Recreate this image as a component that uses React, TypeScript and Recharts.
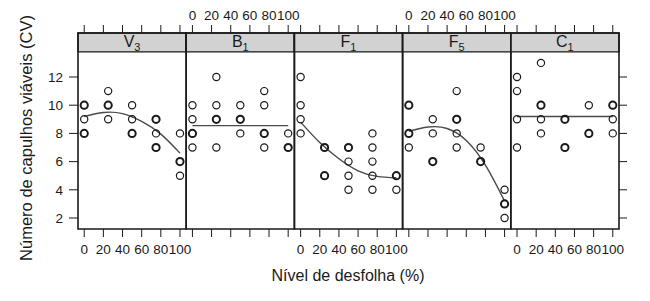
import React from 'react';
import { ComposedChart, Scatter, Line, XAxis, YAxis, ReferenceArea } from 'recharts';

// panel names (letter + subscript)
const panelNames = ['V', 'B', 'F', 'F', 'C'];
const panelSubs = ['3', '1', '1', '5', '1'];

const xTicks = [0, 20, 40, 60, 80, 100];
const yTicks = [2, 4, 6, 8, 10, 12];

// [nivel de desfolha, capulhos, overlap count]
const v3Points = [
  [0, 10, 2], [0, 9, 1], [0, 8, 2],
  [25, 11, 1], [25, 10, 3], [25, 9, 1],
  [50, 10, 1], [50, 9, 1], [50, 8, 2],
  [75, 9, 2], [75, 8, 1], [75, 7, 2],
  [100, 8, 1], [100, 6, 3], [100, 5, 1],
];
const b1Points = [
  [0, 10, 1], [0, 9, 1], [0, 8, 2], [0, 7, 1],
  [25, 12, 1], [25, 10, 1], [25, 9, 2], [25, 7, 1],
  [50, 10, 1], [50, 9, 2], [50, 8, 1],
  [75, 11, 1], [75, 10, 1], [75, 8, 2], [75, 7, 1],
  [100, 8, 1], [100, 7, 3],
];
const f1Points = [
  [0, 12, 1], [0, 10, 1], [0, 9, 1], [0, 8, 1],
  [25, 7, 2], [25, 5, 2],
  [50, 7, 2], [50, 6, 1], [50, 5, 1], [50, 4, 1],
  [75, 8, 1], [75, 7, 1], [75, 6, 1], [75, 5, 1], [75, 4, 1],
  [100, 5, 3], [100, 4, 1],
];
const f5Points = [
  [0, 10, 3], [0, 8, 2], [0, 7, 1],
  [25, 9, 1], [25, 8, 1], [25, 6, 3],
  [50, 11, 1], [50, 9, 2], [50, 8, 1], [50, 7, 1],
  [75, 7, 1], [75, 6, 3],
  [100, 4, 1], [100, 3, 3], [100, 2, 1],
];
const c1Points = [
  [0, 12, 1], [0, 11, 1], [0, 9, 1], [0, 7, 1],
  [25, 13, 1], [25, 10, 2], [25, 9, 1], [25, 8, 1],
  [50, 9, 2], [50, 7, 2],
  [75, 10, 1], [75, 8, 2],
  [100, 10, 2], [100, 9, 1], [100, 8, 1],
];

// fitted curves
const v3Curve = [[0, 9.2], [20, 9.48], [40, 9.4], [60, 8.85], [80, 7.95], [100, 6.6]];
const b1Curve = [[0, 8.55], [100, 8.55]];
const f1Curve = [[0, 8.8], [20, 7.35], [40, 6.2], [60, 5.35], [80, 4.95], [100, 4.85]];
const f5Curve = [[0, 8.15], [20, 8.45], [40, 8.35], [60, 7.5], [80, 5.75], [100, 3.2]];
const c1Curve = [[0, 9.2], [100, 9.2]];

const allPoints = [v3Points, b1Points, f1Points, f5Points, c1Points];
const allCurves = [v3Curve, b1Curve, f1Curve, f5Curve, c1Curve];

const W = 650;
const H = 301;
const PANEL_LEFT = 78;
const PANEL_W = 108.2;
const PLOT_TOP = 33;
const PLOT_BOTTOM = 229;
const X_DOMAIN: [number, number] = [-6.5, 106.5];
const Y_MIN = 1.22;
const STRIP_Y = 13.78;
const Y_MAX = 15.12;
const FONT = '"Liberation Sans", Arial, Helvetica, sans-serif';
const INK = '#1a1a1a';

const tickStyle = { fill: INK, fontSize: 13.5, fontFamily: FONT };
const blank = () => '';

const Circle = (props: any) => {
  const { cx, cy, payload } = props;
  return (
    <circle cx={cx} cy={cy} r={3.6} fill="none" stroke={INK}
      strokeWidth={payload.n > 1 ? 2 : 1.2} />
  );
};

const StripLabel = (props: any) => {
  const { viewBox, name, sub } = props;
  const cx = viewBox.x + viewBox.width / 2;
  const cy = viewBox.y + viewBox.height / 2;
  return (
    <text x={cx} y={cy + 5} textAnchor="middle" fontSize={16} fill={INK} fontFamily={FONT}>
      {name}
      <tspan fontSize={11} dy={4}>{sub}</tspan>
    </text>
  );
};

const Panel = ({ i }: { i: number }) => {
  const left = PANEL_LEFT + i * PANEL_W;
  const right = left + PANEL_W;
  const leftAxis = i === 0;
  const rightAxis = i === 4;
  const bottomLabels = i % 2 === 0;
  const points = allPoints[i].map(([x, y, n]) => ({ x, y, n }));
  const curve = allCurves[i].map(([x, y]) => ({ x, y }));

  return (
    <ComposedChart
      width={W}
      height={H}
      style={{ position: 'absolute', left: 0, top: 0 }}
      margin={{
        top: PLOT_TOP - 30,
        bottom: H - PLOT_BOTTOM - 30,
        left: left - (leftAxis ? 40 : 0),
        right: W - right - (rightAxis ? 10 : 0),
      }}
    >
      <XAxis dataKey="x" type="number" domain={X_DOMAIN} ticks={xTicks} height={30}
        axisLine={false} tickSize={8} tickMargin={7} interval={0}
        tickLine={{ stroke: INK }} tick={tickStyle}
        tickFormatter={bottomLabels ? undefined : blank} />
      <XAxis xAxisId="top" orientation="top" dataKey="x" type="number" domain={X_DOMAIN}
        ticks={xTicks} height={30} axisLine={false} tickSize={8} tickMargin={5} interval={0}
        tickLine={{ stroke: INK }} tick={tickStyle}
        tickFormatter={bottomLabels ? blank : undefined} />
      {leftAxis ? (
        <YAxis dataKey="y" type="number" domain={[Y_MIN, Y_MAX]} ticks={yTicks} width={40}
          axisLine={false} tickSize={9} tickMargin={6} interval={0}
          tickLine={{ stroke: INK }} tick={tickStyle} />
      ) : rightAxis ? (
        <YAxis dataKey="y" type="number" orientation="right" domain={[Y_MIN, Y_MAX]} ticks={yTicks}
          width={10} axisLine={false} tickSize={8} interval={0}
          tickLine={{ stroke: INK }} tick={tickStyle} tickFormatter={blank} />
      ) : (
        <YAxis dataKey="y" type="number" domain={[Y_MIN, Y_MAX]} hide />
      )}
      <ReferenceArea y1={STRIP_Y} y2={Y_MAX} fill="#d2d2d2" fillOpacity={1}
        stroke={INK} strokeWidth={1.4}
        label={<StripLabel name={panelNames[i]} sub={panelSubs[i]} />} />
      <ReferenceArea x1={X_DOMAIN[0]} x2={X_DOMAIN[1]} y1={Y_MIN} y2={Y_MAX}
        fill="none" stroke={INK} strokeWidth={1.6} />
      <Scatter data={points} shape={<Circle />} isAnimationActive={false} />
      <Line data={curve} dataKey="y" type="natural" stroke="#4a4a4a" strokeWidth={1.4}
        dot={false} activeDot={false} isAnimationActive={false} />
      {/* invisible series so the top axis gets a domain and draws */}
      <Line xAxisId="top" data={curve} dataKey="y" stroke="none" dot={false}
        activeDot={false} isAnimationActive={false} />
    </ComposedChart>
  );
};

export default function App() {
  return (
    <div style={{ position: 'absolute', left: 0, top: 0, width: W, height: H, background: '#fff' }}>
      {[0, 1, 2, 3, 4].map((i) => <Panel key={i} i={i} />)}
      <div style={{
        position: 'absolute', left: 26, top: 138, transform: 'translate(-50%, -50%) rotate(-90deg)',
        whiteSpace: 'nowrap', fontFamily: FONT, fontSize: 16.5, color: INK,
      }}>
        Número de capulhos viáveis (CV)
      </div>
      <div style={{
        position: 'absolute', left: 348, top: 276, transform: 'translate(-50%, -50%)',
        whiteSpace: 'nowrap', fontFamily: FONT, fontSize: 16, color: INK,
      }}>
        Nível de desfolha (%)
      </div>
    </div>
  );
}
